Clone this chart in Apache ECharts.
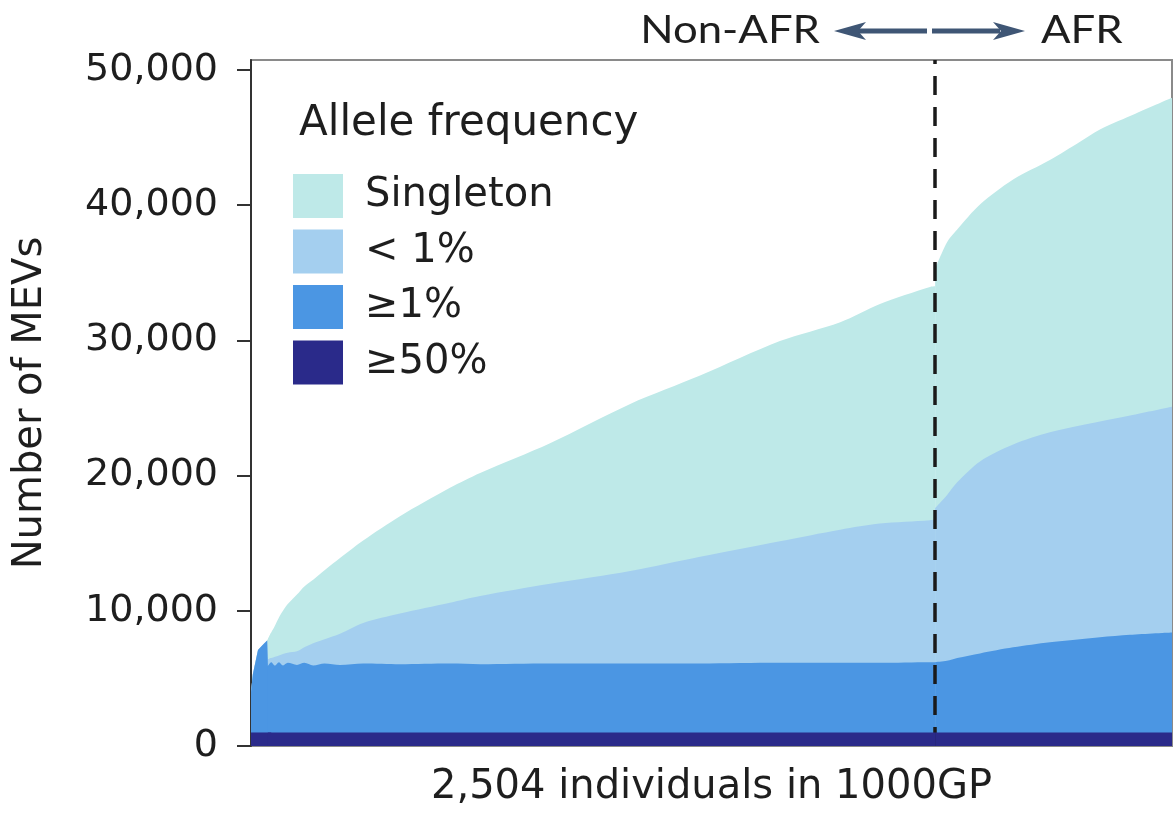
<!DOCTYPE html>
<html><head><meta charset="utf-8">
<script src="https://cdn.jsdelivr.net/npm/echarts@6/dist/echarts.min.js"></script>
<style>html,body{margin:0;padding:0;background:#fff}#c{width:1173px;height:813px}</style>
</head><body><div id="c"></div>
<script>
// Individuals (cumulative, ordered non-AFR then AFR); the AFR boundary appears twice (jump)
const individuals = [0, 5, 19, 33, 44, 46, 55, 65, 76, 87, 100, 125, 145, 169, 200, 242, 305, 405, 541, 623, 813, 1031, 1221, 1438, 1602, 1710, 1846, 1860, 1860, 1892, 1920, 1982, 2072, 2172, 2254, 2308, 2390, 2504];
// MEV counts in each allele-frequency class
const freqGe50 = [1000, 1000, 1000, 1000, 1000, 1000, 1000, 1000, 1000, 1000, 1000, 1000, 1000, 1000, 1000, 1000, 1000, 1000, 1000, 1000, 1000, 1000, 1000, 1000, 1000, 1000, 1000, 1000, 1000, 1000, 1000, 1000, 1000, 1000, 1000, 1000, 1000, 1000];
const freqGe1 = [3000, 4300, 6100, 6500, 6800, 4900, 5200, 4950, 5200, 4950, 5150, 5000, 5150, 4950, 5100, 5000, 5100, 5050, 5100, 5050, 5100, 5100, 5100, 5150, 5150, 5150, 5200, 5200, 5200, 5300, 5500, 5850, 6300, 6680, 6900, 7050, 7230, 7400];
const freqLt1 = [0, 0, 0, 0, 0, 500, 300, 650, 500, 850, 750, 1000, 1150, 1650, 1800, 2300, 3000, 3750, 4500, 5050, 5900, 6850, 7900, 9000, 9850, 10300, 10500, 10550, 11400, 12250, 13000, 14200, 15000, 15520, 15800, 15950, 16220, 16700];
const singleton = [0, 0, 0, 0, 0, 1500, 1900, 2300, 2800, 3200, 3600, 4200, 4500, 4700, 5100, 5600, 6100, 7200, 8500, 9100, 10400, 12350, 13400, 14800, 15350, 16250, 17250, 17250, 17700, 18700, 18700, 19000, 19600, 20150, 21000, 21600, 22150, 22850];
const yTicks = [0, 10000, 20000, 30000, 40000, 50000];
const afrStart = 1860;
const totalIndividuals = 2504;
const legendNames = ['Singleton', '< 1%', '\u22651%', '\u226550%'];

const FONT = 'DejaVu Sans';
const TXT = '#1e1e1e';
const colors = { s: '#bee9e8', lt1: '#a4cfef', ge1: '#4b96e3', ge50: '#2a2a8a' };

// stacked tops (cumulative from the bottom class)
const layers = [freqGe50, freqGe1, freqLt1, singleton];
const cum = [];
layers.forEach((arr, k) => {
  cum.push(arr.map((v, i) => v + (k > 0 ? cum[k - 1][i] : 0)));
});
// segments of the x range: [first index, last index, smoothing]
const afrIdx = individuals.lastIndexOf(afrStart);
const segments = [[0, 6, false], [5, afrIdx - 1, 0.3], [afrIdx, individuals.length - 1, 0.3]];

function mkSeries(name, arr, color, z, seg) {
  const d = [];
  for (let i = seg[0]; i <= seg[1]; i++) d.push([individuals[i], arr[i]]);
  return {
    name: name, type: 'line', silent: true, z: z,
    data: d, smooth: seg[2],
    symbol: 'none', color: color,
    itemStyle: { color: color },
    lineStyle: { width: 0, color: color },
    areaStyle: { color: color, opacity: 1, origin: 'start' },
    animation: false
  };
}

const seriesList = [];
const order = [[3, 'Singleton', colors.s], [2, '< 1%', colors.lt1], [1, '\u22651%', colors.ge1], [0, '\u226550%', colors.ge50]];
order.forEach((o, j) => {
  segments.forEach(seg => seriesList.push(mkSeries(o[1], cum[o[0]], o[2], 2 + j, seg)));
});
seriesList.push({
  type: 'line', data: [], z: 10, silent: true,
  markLine: {
    silent: true, symbol: ['none', 'none'], animation: false,
    label: { show: false },
    lineStyle: { color: '#1a1a1a', width: 3.5, type: [19, 12] },
    data: [{ xAxis: afrStart }]
  }
});

const chart = echarts.init(document.getElementById('c'), null, { renderer: 'canvas' });
chart.setOption({
  animation: false,
  backgroundColor: '#fff',
  title: {
    text: 'Allele frequency', left: 299, top: 103, padding: 0,
    textStyle: { fontFamily: FONT, fontSize: 42, fontWeight: 'normal', color: TXT }
  },
  legend: {
    orient: 'vertical', left: 293, top: 174, padding: 0,
    itemWidth: 50, itemHeight: 44, itemGap: 11.5, icon: 'rect', selectedMode: false,
    itemStyle: { borderWidth: 0 },
    textStyle: { fontFamily: FONT, fontSize: 40, color: TXT, padding: [0, 0, 0, 17] },
    data: legendNames
  },
  grid: { left: 251, right: 1, top: 60, bottom: 64, show: true, borderColor: '#8a8a8a', borderWidth: 2 },
  xAxis: {
    type: 'value', min: 0, max: totalIndividuals,
    axisLine: { show: false }, axisTick: { show: false }, axisLabel: { show: false }, splitLine: { show: false },
    name: '2,504 individuals in 1000GP', nameLocation: 'middle', nameGap: 22,
    nameTextStyle: { fontFamily: FONT, fontSize: 40, color: TXT }
  },
  yAxis: {
    type: 'value', min: 0, max: 50740,
    axisLine: { show: true, lineStyle: { color: '#333', width: 2 } },
    axisTick: { show: true, length: 14, lineStyle: { color: '#333', width: 2 }, customValues: yTicks },
    axisLabel: { customValues: yTicks, formatter: v => Number(v).toLocaleString('en-US'),
      fontFamily: FONT, fontSize: 38, color: TXT, margin: 33 },
    splitLine: { show: false },
    name: 'Number of MEVs', nameLocation: 'middle', nameGap: 200, nameRotate: 90,
    nameTextStyle: { fontFamily: FONT, fontSize: 40, color: TXT }
  },
  series: seriesList,
  graphic: [
    { type: 'text', x: 820, y: 31, scaleX: 1.15, style: { text: 'Non-AFR', font: '38px Lato', fill: TXT, align: 'right', verticalAlign: 'middle' } },
    { type: 'text', x: 1041, y: 31, scaleX: 1.15, style: { text: 'AFR', font: '38px Lato', fill: TXT, align: 'left', verticalAlign: 'middle' } },
    { type: 'line', shape: { x1: 858, y1: 31, x2: 927, y2: 31 }, style: { stroke: '#3f5675', lineWidth: 5 } },
    { type: 'polygon', shape: { points: [[834, 31], [866, 22], [858, 31], [866, 40]] }, style: { fill: '#3f5675' } },
    { type: 'line', shape: { x1: 932, y1: 31, x2: 1000, y2: 31 }, style: { stroke: '#3f5675', lineWidth: 5 } },
    { type: 'polygon', shape: { points: [[1025, 31], [993, 22], [1001, 31], [993, 40]] }, style: { fill: '#3f5675' } }
  ]
});
</script></body></html>
